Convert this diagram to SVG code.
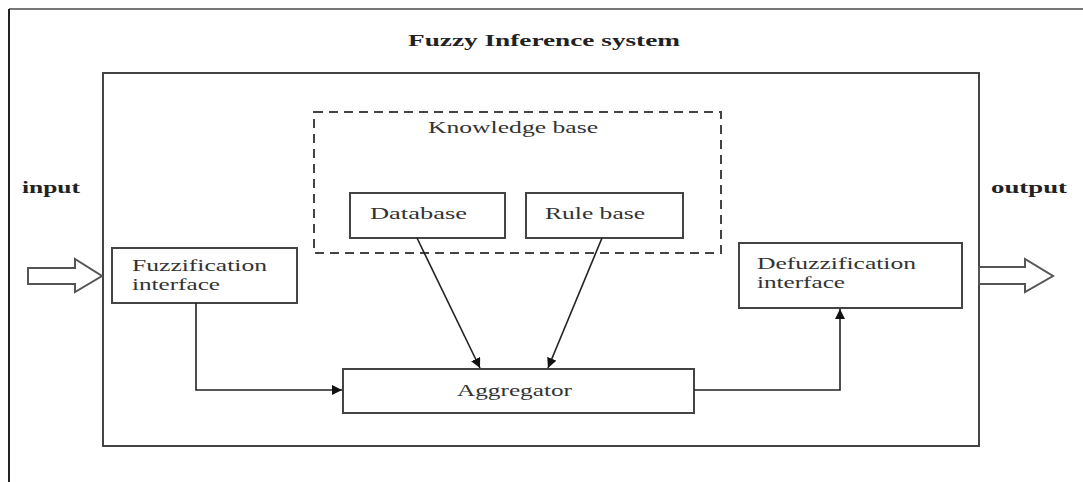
<svg xmlns="http://www.w3.org/2000/svg" width="1083" height="482" viewBox="0 0 1083 482">
<style>
  text { font-family: "Liberation Serif", "Times New Roman", serif; fill: #333; font-size: 16px; }
  .b { font-weight: bold; fill: #222; }
  .box { fill: #fff; stroke: #444; stroke-width: 2; }
  .dash { fill: none; stroke: #444; stroke-width: 2; stroke-dasharray: 9 6; }
  .conn { fill: none; stroke: #222; stroke-width: 1.6; }
  .hollow { fill: #fff; stroke: #555; stroke-width: 2; stroke-linejoin: miter; }
</style>
<defs>
  <marker id="ah" viewBox="0 0 10 10" refX="10" refY="5" markerWidth="10" markerHeight="10" markerUnits="userSpaceOnUse" orient="auto">
    <path d="M0,0 L10,5 L0,10 z" fill="#111"/>
  </marker>
</defs>
<rect width="1083" height="482" fill="#fff"/>
<g id="frame">
  <line x1="9" y1="9" x2="1083" y2="9" stroke="#777" stroke-width="2"/>
  <line x1="9" y1="9" x2="9" y2="482" stroke="#222" stroke-width="2"/>
  <text class="b" x="408" y="46" textLength="272" lengthAdjust="spacingAndGlyphs">Fuzzy Inference system</text>
</g>
<g id="fis">
  <rect class="box" x="103" y="73" width="876" height="373"/>
</g>
<g id="knowledge-base">
  <rect class="dash" x="314" y="112" width="407" height="141"/>
  <text x="428" y="133" textLength="170" lengthAdjust="spacingAndGlyphs">Knowledge base</text>
</g>
<g id="database">
  <rect class="box" x="350" y="193" width="155" height="45"/>
  <text x="370" y="219" textLength="97" lengthAdjust="spacingAndGlyphs">Database</text>
</g>
<g id="rulebase">
  <rect class="box" x="526" y="193" width="157" height="45"/>
  <text x="545" y="219" textLength="100" lengthAdjust="spacingAndGlyphs">Rule base</text>
</g>
<g id="fuzzification">
  <rect class="box" x="112" y="248" width="185" height="55"/>
  <text x="132" y="271" textLength="135" lengthAdjust="spacingAndGlyphs">Fuzzification</text>
  <text x="132" y="290" textLength="88" lengthAdjust="spacingAndGlyphs">interface</text>
</g>
<g id="defuzzification">
  <rect class="box" x="739" y="243" width="223" height="65"/>
  <text x="757" y="269" textLength="159" lengthAdjust="spacingAndGlyphs">Defuzzification</text>
  <text x="757" y="288" textLength="88" lengthAdjust="spacingAndGlyphs">interface</text>
</g>
<g id="aggregator">
  <rect class="box" x="343" y="369" width="351" height="44"/>
  <text x="457" y="396" textLength="115" lengthAdjust="spacingAndGlyphs">Aggregator</text>
</g>
<g id="input">
  <text class="b" x="22" y="193" textLength="58" lengthAdjust="spacingAndGlyphs">input</text>
  <polygon class="hollow" points="28,268 75,268 75,259 102,276 75,292 75,284 28,284"/>
</g>
<g id="output">
  <text class="b" x="991" y="193" textLength="76" lengthAdjust="spacingAndGlyphs">output</text>
  <polygon class="hollow" points="979,267 1025,267 1025,259 1053,276 1025,292 1025,284 979,284"/>
</g>
<g id="connectors">
  <polyline class="conn" points="196,303 196,390 342,390" marker-end="url(#ah)"/>
  <line class="conn" x1="417" y1="238" x2="480" y2="368" marker-end="url(#ah)"/>
  <line class="conn" x1="602" y1="238" x2="548" y2="368" marker-end="url(#ah)"/>
  <polyline class="conn" points="694,390 840,390 840,309" marker-end="url(#ah)"/>
</g>
</svg>
